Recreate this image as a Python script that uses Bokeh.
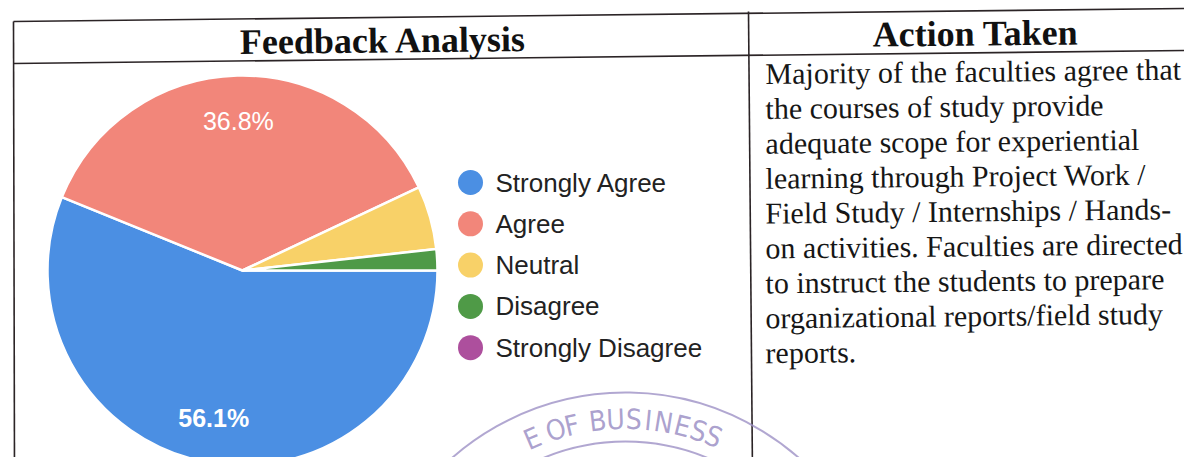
import numpy as np
from bokeh.plotting import figure
from bokeh.models import Range1d, ColumnDataSource
from bokeh.core.properties import value
from bokeh.embed import file_html
from bokeh.resources import INLINE

# ---------------- data ----------------
categories = ["Strongly Agree", "Agree", "Neutral", "Disagree", "Strongly Disagree"]
counts = [32, 21, 3, 1, 0]          # 56.1 %, 36.8 %, 5.3 %, 1.8 %, 0 %
colors = ["#4b8fe3", "#f2867a", "#f8d168", "#4f9a47", "#ad4f9d"]

left_title = "Feedback Analysis"
right_title = "Action Taken"
action_lines = [
    "Majority of the faculties agree that",
    "the courses of study provide",
    "adequate scope for experiential",
    "learning through Project Work /",
    "Field Study / Internships / Hands-",
    "on activities. Faculties are directed",
    "to instruct the students to prepare",
    "organizational reports/field study",
    "reports.",
]
stamp_text = "EGE OF BUSINESS MA"

# ---------------- helpers ----------------
H = 473
def Y(img_y):
    return H - img_y

W_FIG, H_FIG = 1184, 457
p = figure(width=W_FIG, height=H_FIG,
           x_range=Range1d(0, W_FIG), y_range=Range1d(Y(H_FIG), Y(0)),
           output_backend="svg", toolbar_location=None, min_border=0,
           x_axis_type=None, y_axis_type=None)
p.grid.visible = False
p.outline_line_color = None
p.background_fill_color = "white"
p.border_fill_color = "white"

ink = "#2b2426"
tilt = 0.0105

# ---------------- table lines ----------------
seg = dict(
    x0=[13, 13, 13, 748],
    y0=[Y(21), Y(63), Y(21), Y(11)],
    x1=[1184, 1184, 14, 752],
    y1=[Y(8), Y(50), Y(473), Y(473)],
)
p.segment(x0="x0", y0="y0", x1="x1", y1="y1", source=ColumnDataSource(seg),
          line_color=ink, line_width=1.6)

# headers
p.text(x=[383, 975], y=[Y(40), Y(33)], text=[left_title, right_title],
       text_font=value("Liberation Serif"), text_font_style="bold",
       text_font_size="36px", text_color="#111111",
       text_align="center", text_baseline="middle", angle=tilt)

# action text
ys = [Y(73 + 34.9 * i) for i in range(len(action_lines))]
p.text(x=[765] * len(action_lines), y=ys, text=action_lines,
       text_font=value("Liberation Serif"), text_font_size="30px",
       text_color="#161616", text_align="left", text_baseline="middle",
       angle=tilt)

# ---------------- pie ----------------
cx, cy, R = 242, Y(270), 195
total = float(sum(counts))
frac = np.array(counts) / total
cum = np.concatenate([[0.0], np.cumsum(frac)])
start = -2 * np.pi * cum[1:]
end = -2 * np.pi * cum[:-1]
mask = frac > 0
wsrc = ColumnDataSource(dict(start=start[mask], end=end[mask],
                             color=[c for c, m in zip(colors, mask) if m]))
p.wedge(x=cx, y=cy, radius=R, start_angle="start", end_angle="end",
        fill_color="color", line_color="white", line_width=2.5, source=wsrc)

mid = -np.pi * (cum[:-1] + cum[1:])
lab_r = 150
lab_mask = frac >= 0.1
lsrc = ColumnDataSource(dict(
    x=(cx + lab_r * np.cos(mid))[lab_mask],
    y=(cy + lab_r * np.sin(mid))[lab_mask],
    t=[f"{100 * f:.1f}%" for f in frac[lab_mask]],
    st=["bold" if i == 0 else "normal" for i in range(int(lab_mask.sum()))],
))
p.text(x="x", y="y", text="t", source=lsrc, text_font_style="st",
       text_font=value("Liberation Sans"), text_font_size="25px",
       text_color="white", text_align="center", text_baseline="middle")

# ---------------- legend ----------------
leg_y = [Y(182 + 41.3 * i) for i in range(len(categories))]
p.scatter(x=[470] * len(categories), y=leg_y, size=25, marker="circle",
          fill_color=colors, line_color=None)
p.text(x=[495] * len(categories), y=leg_y, text=categories,
       text_font=value("Liberation Sans"), text_font_size="26px",
       text_color="#222222", text_align="left", text_baseline="middle")

# ---------------- stamp (scan artefact, only the part inside the frame) ----------------
stamp_col = "#9d91c6"
scx, scy = 625, Y(654)
stamp_angles_deg = [None, None, 113.3, None, 107.2, 103.2, None, 96.8, 92.4,
                    88.0, 84.4, 80.7, 76.0, 71.9, 68.0, None, None, None]
sx, sy, st, sa = [], [], [], []
for ch, a in zip(stamp_text, stamp_angles_deg):
    if a is None:
        continue
    r = np.radians(a)
    sx.append(scx + 235 * np.cos(r))
    sy.append(scy + 235 * np.sin(r))
    st.append(ch)
    sa.append(r - np.pi / 2)
p.text(x=sx, y=sy, text=st, angle=sa, text_font=value("DejaVu Sans Condensed"),
       text_font_size="28px", text_color=stamp_col, text_alpha=0.85,
       text_align="center", text_baseline="middle")
p.arc(x=[scx, scx], y=[scy, scy], radius=[262, 213],
      start_angle=[np.radians(28), np.radians(42)],
      end_angle=[np.radians(150), np.radians(138)],
      line_color=stamp_col, line_width=2, line_alpha=0.8)

open("out.html", "w").write(file_html(p, INLINE))
